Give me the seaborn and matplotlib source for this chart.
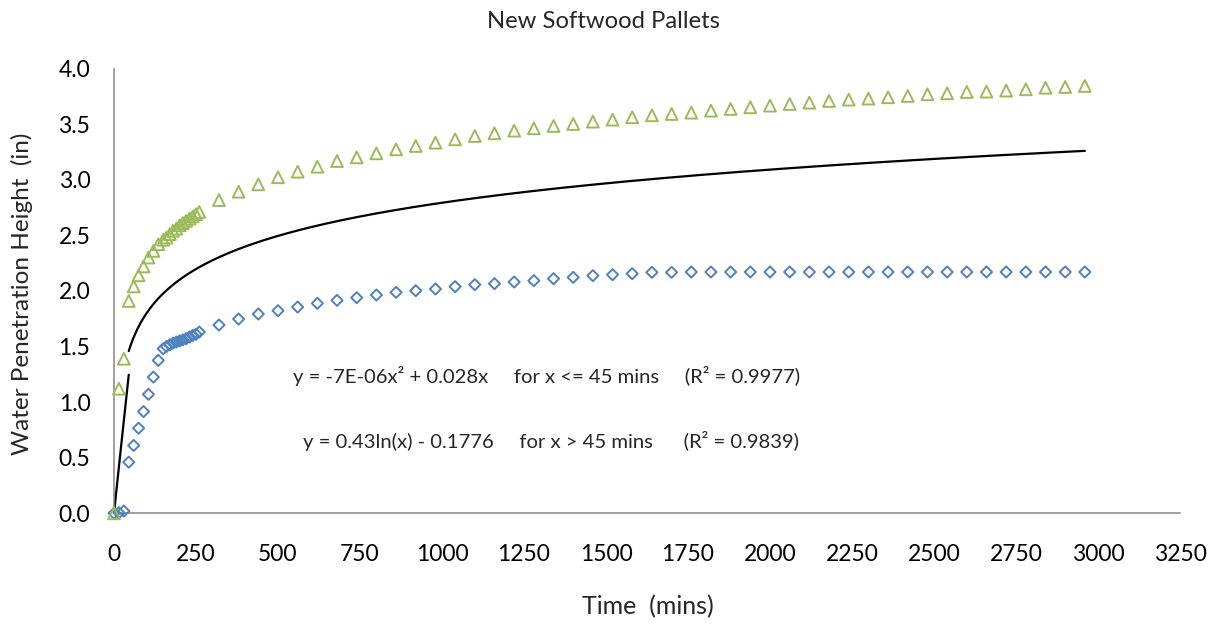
import numpy as np
import pandas as pd
import matplotlib
matplotlib.use("Agg")
import matplotlib.pyplot as plt
import seaborn as sns

# ---- data ----
time_early = [0, 15, 30, 45, 60, 75, 90, 105, 120, 135, 150,
              160, 170, 180, 190, 200, 210, 220, 230, 240, 250, 260]
time_late = list(range(320, 2961, 60))
time_mins = time_early + time_late

low_early = [0.0, 0.005, 0.02, 0.46, 0.61, 0.765, 0.915, 1.07, 1.225, 1.375, 1.48,
             1.50, 1.515, 1.53, 1.54, 1.55, 1.56, 1.57, 1.585, 1.60, 1.61, 1.63]
low_late = [1.693, 1.747, 1.792, 1.822, 1.855, 1.888, 1.915, 1.939, 1.963, 1.987,
            2.002, 2.017, 2.038, 2.056, 2.065, 2.080, 2.092, 2.110, 2.122, 2.137,
            2.146, 2.155, 2.167, 2.167,
            2.17, 2.17, 2.17, 2.17, 2.17, 2.17, 2.17, 2.17, 2.17, 2.17, 2.17,
            2.17, 2.17, 2.17, 2.17, 2.17, 2.17, 2.17, 2.17, 2.17, 2.17]
low_height = low_early + low_late

high_early = [0.0, 1.12, 1.39, 1.91, 2.04, 2.14, 2.22, 2.30, 2.36, 2.42, 2.46,
              2.48, 2.51, 2.54, 2.56, 2.59, 2.61, 2.63, 2.65, 2.67, 2.69, 2.71]
high_late = [2.817, 2.892, 2.958, 3.022, 3.072, 3.117, 3.168, 3.201, 3.237, 3.273,
             3.303, 3.333, 3.363, 3.393, 3.417, 3.441, 3.462, 3.483, 3.501, 3.522,
             3.540, 3.561, 3.579, 3.591,
             3.603, 3.621, 3.636, 3.651, 3.666, 3.681, 3.693, 3.708, 3.720, 3.729,
             3.741, 3.753, 3.768, 3.777, 3.789, 3.792, 3.801, 3.813, 3.827, 3.834, 3.843]
high_height = high_early + high_late

# fitted trend (coefficients shown on the chart)
quad_a, quad_b = -7e-06, 0.028
log_a, log_b = 0.43, -0.1776
split_time = 45
end_time = 2960

title_text = "New Softwood Pallets"
xlabel_text = "Time  (mins)"
ylabel_text = "Water Penetration Height  (in)"
eq1_text = "y = -7E-06x² + 0.028x     for x <= 45 mins     (R² = 0.9977)"
eq2_text = "y = 0.43ln(x) - 0.1776     for x > 45 mins      (R² = 0.9839)"
x_ticks = list(range(0, 3251, 250))
y_ticks = [0.0, 0.5, 1.0, 1.5, 2.0, 2.5, 3.0, 3.5, 4.0]

# ---- figure ----
sns.set_theme(style="white")
plt.rcParams['font.family'] = ['Lato', 'DejaVu Sans']

fig = plt.figure(figsize=(12.2, 6.25), dpi=100)
ax = fig.add_axes([114 / 1220, 1 - 513.3 / 625, (1180 - 114) / 1220, (513.3 - 68.5) / 625])

df = pd.DataFrame({"time": time_mins, "low": low_height, "high": high_height})

blue = "#4F81BD"
green = "#9BBB59"

# trend curve
t1 = np.linspace(0, split_time, 50)
t2 = np.linspace(split_time, end_time, 600)
trend1 = pd.DataFrame({"t": t1, "y": quad_a * t1 ** 2 + quad_b * t1})
trend2 = pd.DataFrame({"t": t2, "y": log_a * np.log(t2) + log_b})
sns.lineplot(data=trend1, x="t", y="y", ax=ax, color="black", linewidth=1.6, sort=False)
sns.lineplot(data=trend2, x="t", y="y", ax=ax, color="black", linewidth=1.6, sort=False)

sns.scatterplot(data=df, x="time", y="low", ax=ax, marker="D", s=32,
                facecolor="none", edgecolor=blue, linewidth=1.4, zorder=3, clip_on=False)
sns.scatterplot(data=df, x="time", y="high", ax=ax, marker="^", s=72,
                facecolor="none", edgecolor=green, linewidth=1.4, zorder=3, clip_on=False)

ax.set_xlim(0, 3250)
ax.set_ylim(0, 4.0)
ax.set_xticks(x_ticks)
ax.set_yticks(y_ticks)
ax.set_xticklabels([str(v) for v in x_ticks])
ax.set_yticklabels([f"{v:.1f}" for v in y_ticks])

for s in ["top", "right"]:
    ax.spines[s].set_visible(False)
for s in ["left", "bottom"]:
    ax.spines[s].set_color("#868686")
    ax.spines[s].set_linewidth(1.1)
ax.tick_params(axis="both", which="major", direction="out", length=6, width=1.1,
               color="#868686", labelsize=16.5, labelcolor="black")
ax.tick_params(axis="x", pad=16)
ax.tick_params(axis="y", pad=11)
ax.grid(False)

ax.set_xlabel("")
ax.set_ylabel("")
fig.text(648 / 1220, 1 - 607 / 625, xlabel_text, ha="center", va="center", fontsize=18)
fig.text(22 / 1220, 1 - 294 / 625, ylabel_text, ha="center", va="center",
         rotation=90, fontsize=17.5)
fig.text(603 / 1220, 1 - 21 / 625, title_text, ha="center", va="center", fontsize=17.2)

fig.text(293 / 1220, 1 - 376 / 625, eq1_text, ha="left", va="center", fontsize=14.6)
fig.text(303 / 1220, 1 - 441 / 625, eq2_text, ha="left", va="center", fontsize=14.6)

fig.savefig("out.png", dpi=100)
